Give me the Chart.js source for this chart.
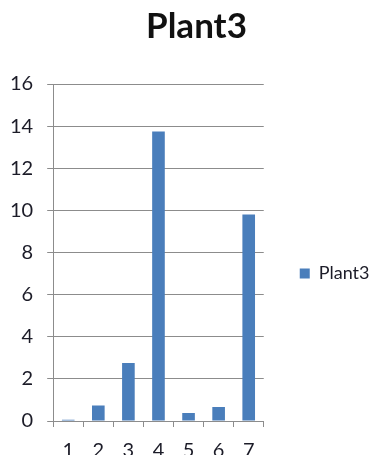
<!DOCTYPE html>
<html>
<head>
<meta charset="utf-8">
<script src="https://cdn.jsdelivr.net/npm/chart.js@4.4.1/dist/chart.umd.min.js"></script>
<style>
  html, body { margin: 0; padding: 0; background: #fff; overflow: hidden; }
  #wrap { width: 375px; height: 455px; overflow: hidden; }
</style>
</head>
<body>
<div id="wrap"><canvas id="myChart" width="375" height="475"></canvas></div>
<script>
var xValues = ["1", "2", "3", "4", "5", "6", "7"];
var plant3 = [0.06, 0.73, 2.75, 13.74, 0.38, 0.66, 9.81];
var seriesName = "Plant3";

var fontFam = "Lato, 'Open Sans', sans-serif";
var textColor = "#1c1c28";

// shift title and legend boxes after the layout pass
var nudge = {
  id: "nudge",
  afterLayout: function(chart) {
    var t = chart.titleBlock;
    if (t) { t.left += 22; t.right += 22; }
    var lg = chart.legend;
    if (lg) {
      lg.left += 26; lg.right += 26;
      lg.top += 35; lg.bottom += 35;
    }
  }
};

var myChart = new Chart("myChart", {
  type: "bar",
  data: {
    labels: xValues,
    datasets: [{
      label: seriesName,
      backgroundColor: "#4a7ebb",
      borderWidth: 0,
      data: plant3,
      barPercentage: 0.42,
      categoryPercentage: 1.0
    }]
  },
  plugins: [nudge],
  options: {
    responsive: false,
    animation: false,
    layout: { padding: { left: -4, right: 22, top: 2, bottom: 0 } },
    plugins: {
      title: {
        display: true,
        text: "Plant3",
        color: "#111",
        font: { family: fontFam, size: 35, weight: "bold" },
        padding: { top: 4, bottom: 36 }
      },
      legend: {
        position: "right",
        labels: {
          boxWidth: 10,
          boxHeight: 10,
          color: textColor,
          font: { family: fontFam, size: 18 },
          padding: 10
        }
      },
      tooltip: { enabled: false }
    },
    scales: {
      x: {
        offset: true,
        grid: {
          offset: true,
          drawOnChartArea: false,
          tickLength: 6,
          color: "#8c8c8c"
        },
        border: { color: "#8c8c8c" },
        ticks: {
          color: textColor,
          font: { family: fontFam, size: 20 },
          padding: 12,
          maxRotation: 0
        }
      },
      y: {
        min: 0,
        max: 16,
        grid: {
          color: "#8c8c8c",
          tickLength: 6
        },
        border: { color: "#8c8c8c" },
        ticks: {
          stepSize: 2,
          color: textColor,
          font: { family: fontFam, size: 20 },
          padding: 14
        }
      }
    }
  }
});
</script>
</body>
</html>
